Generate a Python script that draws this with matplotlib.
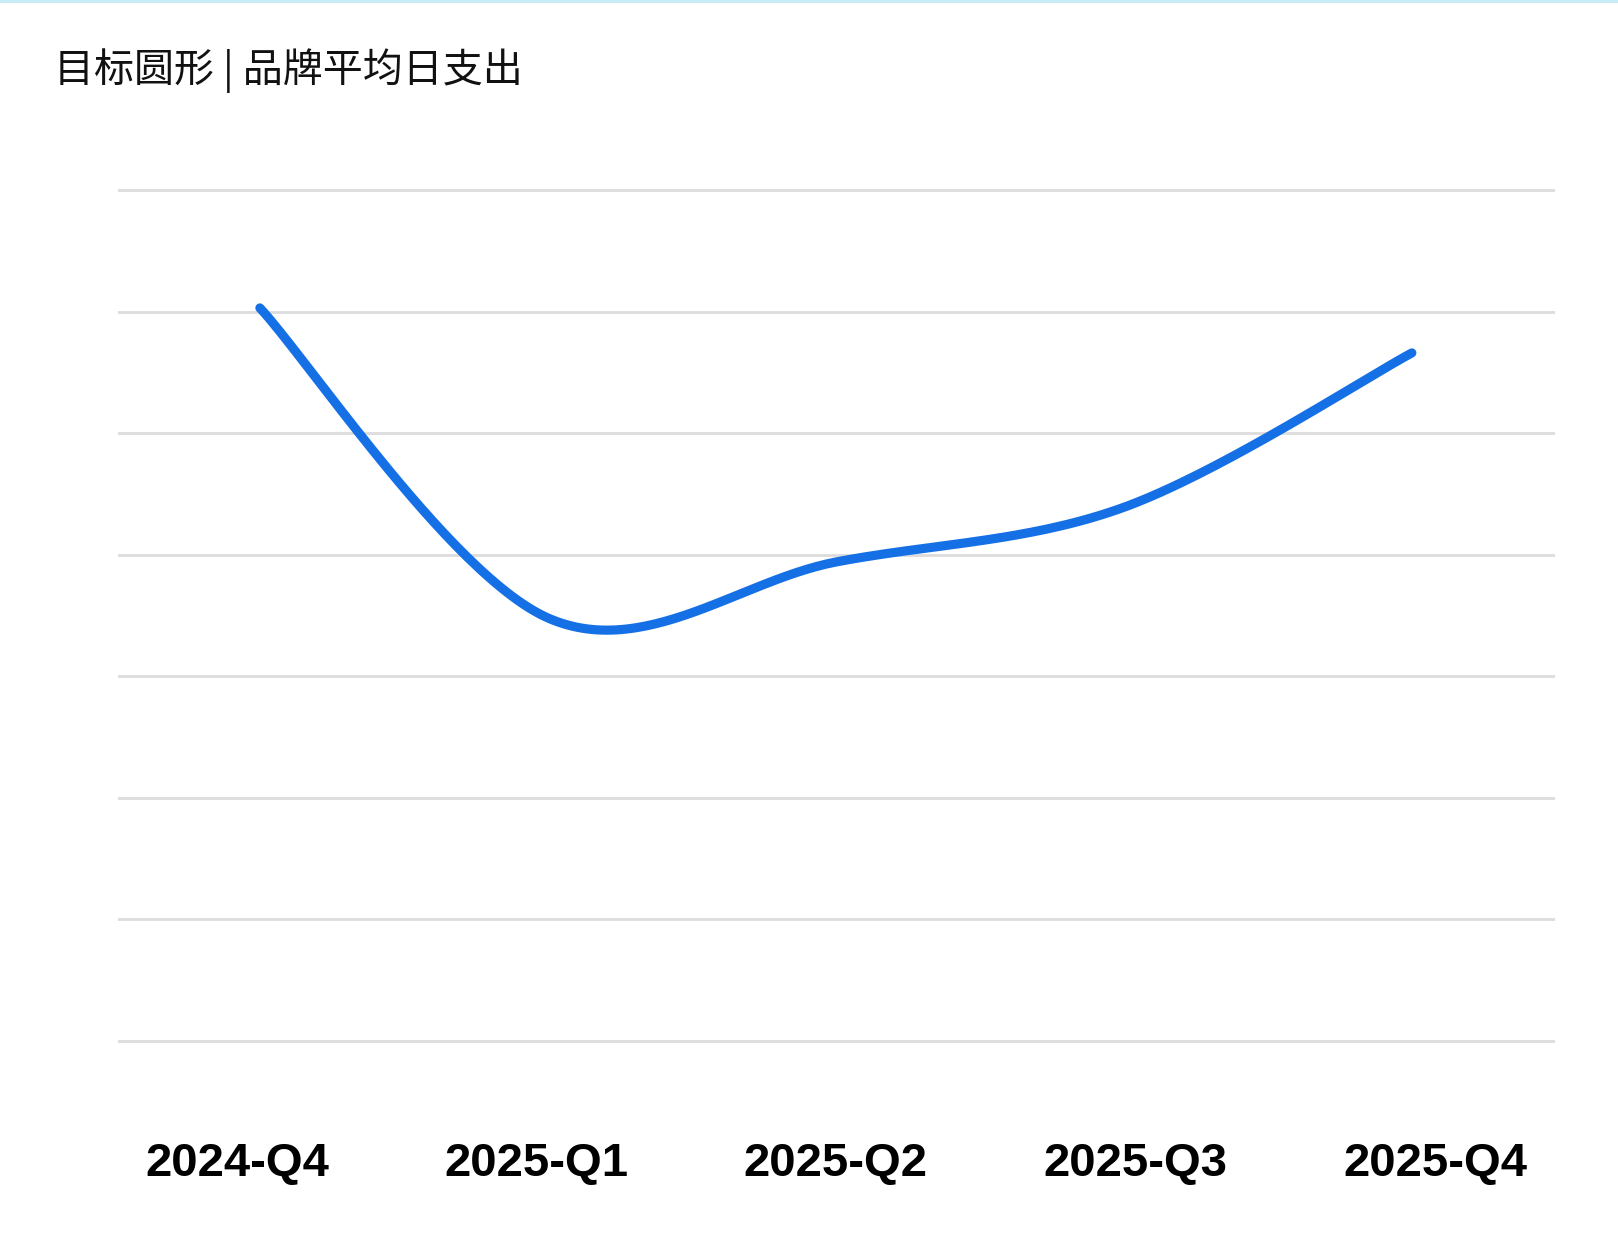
import numpy as np
import matplotlib
matplotlib.use("Agg")
import matplotlib.pyplot as plt
from matplotlib.patches import Rectangle

title = "目标圆形 | 品牌平均日支出"
categories = ["2024-Q4", "2025-Q1", "2025-Q2", "2025-Q3", "2025-Q4"]
values = [6.03, 3.48, 3.94, 4.39, 5.66]
grid_levels = [0, 1, 2, 3, 4, 5, 6, 7]


def catmull_rom(xs, ys, n=60):
    pts = np.column_stack([xs, ys]).astype(float)
    out = []
    m = len(pts)
    for i in range(m - 1):
        p0 = pts[i - 1] if i > 0 else pts[i]
        p1 = pts[i]
        p2 = pts[i + 1]
        p3 = pts[i + 2] if i + 2 < m else pts[i + 1]
        t1 = (p2 - p0) / 2.0
        t2 = (p3 - p1) / 2.0
        t = np.linspace(0, 1, n)[:, None]
        h00 = 2 * t**3 - 3 * t**2 + 1
        h10 = t**3 - 2 * t**2 + t
        h01 = -2 * t**3 + 3 * t**2
        h11 = t**3 - t**2
        seg = h00 * p1 + h10 * t1 + h01 * p2 + h11 * t2
        out.append(seg if i == 0 else seg[1:])
    arr = np.vstack(out)
    return arr[:, 0], arr[:, 1]


W, H = 1618, 1246
fig = plt.figure(figsize=(W / 100, H / 100), dpi=100)
fig.patch.set_facecolor("white")

ax = fig.add_axes([117.6 / W, 1 - 1101.8 / H, (1555 - 117.6) / W, 972.6 / H])
ax.set_xlim(-0.494, 4.497)
ax.set_ylim(-0.5, 7.5)
for s in ax.spines.values():
    s.set_visible(False)
ax.set_yticks([])

for g in grid_levels:
    ax.axhline(g, color="#dcdcdc", lw=2.0, zorder=1)

x = np.arange(len(values))
sx, sy = catmull_rom(x, values)
ax.plot(sx, sy, color="#1570e6", lw=6.6, solid_capstyle="round", zorder=3)

label_pos = [2 + (i - 2) * 1.04 for i in range(len(categories))]
ax.set_xticks(label_pos)
ax.set_xticklabels(categories, fontsize=34, fontweight="bold",
                   family=["Liberation Sans", "DejaVu Sans"], color="black")
ax.tick_params(axis="x", length=0, pad=29)

fig.text(54 / W, 1 - 71 / H, title, fontsize=28.8, va="center", ha="left",
         family=["Noto Sans CJK SC", "DejaVu Sans"], fontweight="light", color="#111111")

fig.add_artist(Rectangle((0, 1 - 3 / H), 1, 3 / H, transform=fig.transFigure,
                         facecolor="#c8ecf6", edgecolor="none"))

fig.savefig("out.png", dpi=100, facecolor="white")
